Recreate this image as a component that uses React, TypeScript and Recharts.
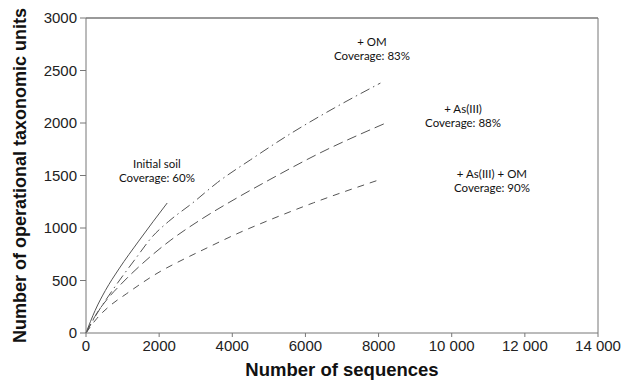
import { LineChart, Line, XAxis, YAxis, ReferenceLine, ReferenceDot, Label } from 'recharts';

// Axis ticks
const xTicks = [0, 2000, 4000, 6000, 8000, 10000, 12000, 14000];
const yTicks = [0, 500, 1000, 1500, 2000, 2500, 3000];

// Rarefaction curves (sequences -> OTUs)
const initialX = [0, 250, 530, 900, 1440, 2220];
const initialY = [0, 215, 405, 610, 875, 1238];

const omX = [0, 300, 700, 1370, 1820, 2250, 2920, 3600, 4500, 5600, 6800, 8050];
const omY = [0, 185, 395, 715, 920, 1060, 1240, 1435, 1650, 1900, 2145, 2380];

const asX = [0, 300, 600, 930, 1800, 2300, 3120, 4120, 5030, 6400, 8180];
const asY = [0, 190, 330, 455, 740, 880, 1076, 1285, 1462, 1715, 1997];

const asOmX = [0, 300, 650, 1100, 2050, 2570, 3200, 4210, 4940, 6220, 8000];
const asOmY = [0, 140, 258, 372, 590, 685, 792, 958, 1065, 1240, 1457];

// Annotation text and where it sits (data coordinates)
const labelNames = ['Initial soil', '+ OM', '+ As(III)', '+ As(III) + OM'];
const coverage = ['Coverage: 60%', 'Coverage: 83%', 'Coverage: 88%', 'Coverage: 90%'];
const labelX = [1940, 7820, 10310, 11100];
const labelY = [1552, 2705, 2076, 1452];

const toPoints = (xs: number[], ys: number[]) => xs.map((x, i) => ({ x, y: ys[i] }));

const series = [
    { key: 'initial', data: toPoints(initialX, initialY), dash: undefined },
    { key: 'om', data: toPoints(omX, omY), dash: '10 4 1.5 4' },
    { key: 'as', data: toPoints(asX, asY), dash: '10 5' },
    { key: 'asom', data: toPoints(asOmX, asOmY), dash: '7 6' },
];

const LINE = '#555';
const AXIS = '#777';
const tickFont = { fontFamily: 'Liberation Sans, Arial, sans-serif', fontSize: 15, fill: '#222' };
const titleFont = { fontFamily: 'Liberation Sans, Arial, sans-serif', fontSize: 18.5, fontWeight: 700, fill: '#111' };

const fmtX = (v: number) => (v >= 10000 ? `${Math.floor(v / 1000)} ${String(v % 1000).padStart(3, '0')}` : String(v));

const Note = (lines: string[]) => (props: any) => {
    const { x, y } = props.viewBox;
    return (
        <g style={{ fontFamily: 'Lato, sans-serif', fontSize: 11.5, fill: '#111' }}>
            <text x={x} y={y - 7} textAnchor="middle" dominantBaseline="central">{lines[0]}</text>
            <text x={x} y={y + 7} textAnchor="middle" dominantBaseline="central">{lines[1]}</text>
        </g>
    );
};

export default function App() {
    return (
        <LineChart width={613} height={374} margin={{ top: 10, right: 23, left: 0, bottom: 0 }}>
            <XAxis
                dataKey="x"
                type="number"
                domain={[0, 14000]}
                ticks={xTicks}
                tickFormatter={fmtX}
                height={49}
                stroke={AXIS}
                tickSize={4}
                tickMargin={3}
                tick={tickFont}
                allowDuplicatedCategory={false}
            >
                <Label value="Number of sequences" position="insideBottom" offset={6} style={titleFont} />
            </XAxis>
            <YAxis
                dataKey="y"
                type="number"
                domain={[0, 3000]}
                ticks={yTicks}
                width={78}
                stroke={AXIS}
                tickSize={6}
                tickMargin={3}
                tick={tickFont}
            >
                <Label
                    value="Number of operational taxonomic units"
                    angle={-90}
                    position="insideLeft"
                    offset={12}
                    style={{ ...titleFont, fontSize: 18, textAnchor: 'middle' }}
                />
            </YAxis>
            {/* frame on top and right */}
            <ReferenceLine y={3000} stroke={AXIS} strokeWidth={1.5} />
            <ReferenceLine x={14000} stroke={AXIS} />

            {series.map((s) => (
                <Line
                    key={s.key}
                    data={s.data}
                    dataKey="y"
                    type="monotone"
                    stroke={LINE}
                    strokeWidth={1}
                    strokeDasharray={s.dash}
                    dot={false}
                    activeDot={false}
                    isAnimationActive={false}
                />
            ))}

            {labelNames.map((name, i) => (
                <ReferenceDot
                    key={name}
                    x={labelX[i]}
                    y={labelY[i]}
                    r={0}
                    fill="none"
                    stroke="none"
                    label={Note([name, coverage[i]])}
                />
            ))}
        </LineChart>
    );
}
